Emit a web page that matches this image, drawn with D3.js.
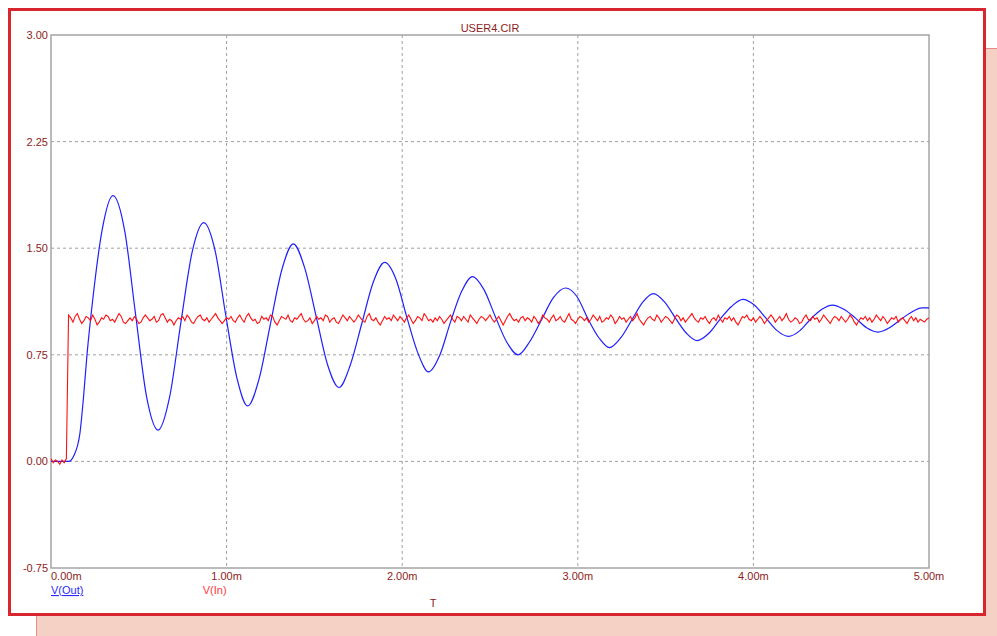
<!DOCTYPE html>
<html>
<head>
<meta charset="utf-8">
<script src="https://cdn.jsdelivr.net/npm/d3@7"></script>
<style>
  body { margin: 0; background: #ffffff; }
  svg text { font-family: "Liberation Sans", Arial, sans-serif; font-size: 11px; }
</style>
</head>
<body>
<script>
// tick values for both axes
const yTicks = [-0.75, 0, 0.75, 1.5, 2.25, 3.0];
const xTicks = [0, 1, 2, 3, 4, 5];

// V(Out): damped ringing, times in ms
const outTimes = [0, 0.10, 0.13, 0.165, 0.185, 0.205, 0.237, 0.29, 0.353, 0.42, 0.48, 0.545, 0.61,
  0.675, 0.74, 0.805, 0.87, 0.935, 0.995, 1.06, 1.12, 1.185, 1.25, 1.315, 1.38, 1.445, 1.51,
  1.575, 1.64, 1.705, 1.77, 1.835, 1.90, 1.965, 2.025, 2.09, 2.15, 2.215, 2.275, 2.34, 2.40,
  2.465, 2.53, 2.595, 2.66, 2.725, 2.795, 2.86, 2.93, 2.995, 3.055, 3.12, 3.18, 3.245, 3.31,
  3.37, 3.43, 3.495, 3.555, 3.62, 3.68, 3.745, 3.81, 3.875, 3.94, 4.005, 4.07, 4.135, 4.20,
  4.265, 4.325, 4.39, 4.45, 4.515, 4.58, 4.645, 4.71, 4.775, 4.84, 4.90, 4.96, 5.00];
const outValues = [0, 0, 0.04, 0.20, 0.45, 0.75, 1.13, 1.62, 1.87, 1.62, 1.05, 0.45, 0.22,
  0.45, 0.98, 1.48, 1.68, 1.48, 1.03, 0.58, 0.39, 0.58, 0.97, 1.35, 1.53, 1.36, 1.02,
  0.68, 0.52, 0.68, 0.97, 1.26, 1.40, 1.28, 1.02, 0.76, 0.63, 0.75, 0.98, 1.20, 1.30,
  1.21, 1.02, 0.84, 0.75, 0.84, 1.00, 1.15, 1.22, 1.16, 1.01, 0.87, 0.80, 0.87, 1.00,
  1.12, 1.18, 1.12, 1.01, 0.90, 0.85, 0.90, 1.00, 1.09, 1.14, 1.10, 1.01, 0.92, 0.88,
  0.92, 1.00, 1.07, 1.10, 1.07, 1.01, 0.94, 0.91, 0.94, 1.00, 1.05, 1.08, 1.08];

// V(In): noisy step, sampled every 0.0125 ms
const inStep = 0.0125;
const inBefore = [0.02, -0.01, 0.01, 0.00, -0.02, 0.01, -0.01, 0.02];
const inStart = 0.10;
const inAfter = [
  1.03, 1.01, 0.98, 1.02, 1.04, 1.00, 0.97, 0.99, 1.02, 1.01,
  0.99, 1.03, 1.00, 0.96, 0.98, 1.01, 1.00, 1.03, 1.02, 0.99,
  1.00, 0.98, 1.01, 1.04, 1.02, 0.98, 0.97, 0.99, 1.01, 0.99,
  1.02, 1.00, 0.97, 0.98, 1.01, 1.03, 1.01, 0.99, 1.00, 1.02,
  0.98, 0.99, 1.03, 1.04, 1.01, 0.98, 1.00, 0.99, 0.96, 0.99,
  1.01, 1.00, 1.02, 0.99, 1.03, 1.01, 0.98, 0.97, 1.00, 1.02,
  1.03, 1.00, 0.99, 1.01, 0.98, 1.00, 1.02, 1.04, 1.01, 0.99,
  0.97, 0.99, 1.01, 1.00, 1.02, 0.99, 0.98, 1.01, 1.03, 1.00,
  0.98, 1.02, 1.04, 1.01, 0.99, 1.00, 0.97, 0.98, 1.02, 1.00,
  1.01, 0.99, 1.03, 1.02, 0.98, 0.96, 0.99, 1.02, 1.01, 1.00,
  1.03, 0.99, 0.98, 1.01, 1.00, 1.02, 1.04, 1.00, 0.98, 0.99,
  1.01, 0.97, 0.99, 1.02, 1.00, 1.01, 0.99, 1.03, 1.02, 0.98,
  1.00, 1.01, 0.98, 0.97, 1.00, 1.03, 1.01, 0.99, 1.02, 1.00,
  0.98, 1.00, 1.03, 1.01, 0.99, 0.98, 1.02, 1.04, 1.00, 0.99,
  1.01, 0.98, 0.96, 0.99, 1.02, 1.00, 1.01, 0.99, 1.03, 1.01,
  0.99, 1.02, 1.00, 0.98, 1.01, 1.03, 1.00, 0.97, 0.99, 1.02,
  1.01, 0.99, 1.04, 1.02, 0.99, 1.00, 0.98, 1.01, 0.99, 1.02,
  1.00, 0.97, 0.99, 1.01, 1.03, 1.00, 0.98, 1.02, 1.01, 0.99,
  1.02, 1.00, 0.98, 1.03, 1.01, 0.99, 0.97, 1.00, 1.02, 1.01,
  0.99, 1.01, 1.03, 1.00, 0.98, 1.00, 1.02, 0.99, 0.96, 0.99,
  1.02, 1.04, 1.01, 0.99, 1.00, 0.98, 1.01, 1.02, 0.99, 1.01,
  1.00, 0.98, 1.02, 1.00, 0.97, 0.99, 1.03, 1.01, 1.00, 0.98,
  1.01, 1.03, 0.99, 1.00, 1.02, 0.99, 0.98, 1.01, 1.04, 1.00,
  0.99, 0.97, 1.00, 1.02, 1.01, 0.99, 1.01, 0.98, 1.00, 1.03,
  1.01, 0.99, 1.02, 0.98, 0.99, 1.01, 1.00, 1.03, 1.01, 0.97,
  0.99, 1.02, 1.00, 1.01, 0.98, 1.00, 1.02, 0.99, 1.01, 1.04,
  1.00, 0.98, 0.96, 0.99, 1.01, 1.02, 1.00, 0.99, 1.03, 1.01,
  0.98, 1.00, 1.02, 1.01, 0.99, 0.97, 1.00, 1.03, 1.02, 0.99,
  1.01, 0.98, 1.00, 1.02, 1.04, 1.01, 0.99, 0.98, 1.01, 1.00,
  1.02, 0.99, 0.97, 1.00, 1.01, 0.99, 1.03, 1.00, 0.98, 1.01,
  1.00, 1.02, 0.99, 1.01, 0.98, 0.96, 0.99, 1.02, 1.01, 1.03,
  1.00, 0.99, 1.01, 0.98, 1.00, 1.02, 1.00, 0.97, 0.99, 1.01,
  1.03, 1.01, 0.98, 1.00, 1.02, 0.99, 1.01, 1.04, 1.00, 0.98,
  0.99, 1.01, 1.00, 0.97, 0.98, 1.01, 1.03, 1.00, 0.99, 1.02,
  1.00, 1.01, 0.98, 1.00, 1.03, 1.01, 0.99, 0.97, 1.00, 1.02,
  1.01, 0.99, 1.02, 1.00, 0.98, 1.00, 1.03, 1.01, 0.98, 0.96,
  0.99, 1.01, 1.00, 1.02, 0.99, 1.01, 0.98, 1.00, 1.03, 1.01,
  0.99, 1.02, 1.00, 0.97, 0.99, 1.01, 1.00, 1.02, 0.98, 1.00,
  1.01, 0.99, 0.97, 1.00, 1.02, 0.99, 1.01, 0.98, 1.00, 0.99,
  0.98, 1.00, 1.01];

const W = 997, H = 636;
const plot = { left: 51, top: 35, right: 929, bottom: 568 };
const darkRed = "#8e1c1c";

const svg = d3.select("body").append("svg")
  .attr("width", W).attr("height", H);

// pink backdrop behind the white panel
svg.append("rect")
  .attr("x", 36.5).attr("y", 48.5).attr("width", W).attr("height", H)
  .attr("fill", "#f4d1c4").attr("stroke", "#e78a86").attr("stroke-width", 1);

// white panel with red frame
svg.append("rect")
  .attr("x", 9.5).attr("y", 9.5).attr("width", 975).attr("height", 605)
  .attr("fill", "#ffffff").attr("stroke", "#d7262d").attr("stroke-width", 3);

const x = d3.scaleLinear().domain([0, 5]).range([plot.left, plot.right]);
const y = d3.scaleLinear().domain([-0.75, 3]).range([plot.bottom, plot.top]);

// dashed grid
svg.append("g").selectAll("line")
  .data(xTicks.slice(1, -1))
  .enter().append("line")
  .attr("x1", d => x(d)).attr("x2", d => x(d))
  .attr("y1", plot.top).attr("y2", plot.bottom)
  .attr("stroke", "#a0a0a0").attr("stroke-dasharray", "3,3");
svg.append("g").selectAll("line")
  .data(yTicks.slice(1, -1))
  .enter().append("line")
  .attr("x1", plot.left).attr("x2", plot.right)
  .attr("y1", d => y(d)).attr("y2", d => y(d))
  .attr("stroke", "#a0a0a0").attr("stroke-dasharray", "3,3");

// plot frame
svg.append("rect")
  .attr("x", plot.left).attr("y", plot.top)
  .attr("width", plot.right - plot.left).attr("height", plot.bottom - plot.top)
  .attr("fill", "none").attr("stroke", "#a4a4a4").attr("stroke-width", 1.5);

// clip for the traces
svg.append("clipPath").attr("id", "clip")
  .append("rect").attr("x", plot.left).attr("y", plot.top)
  .attr("width", plot.right - plot.left).attr("height", plot.bottom - plot.top);

// build V(In) points
let inData = inBefore.map((v, i) => [i * inStep, v]);
inAfter.forEach((v, i) => inData.push([inStart + i * inStep, v]));
inData = inData.filter(d => d[0] <= 5);

const outData = outTimes.map((t, i) => [t, outValues[i]]);

const line = d3.line().x(d => x(d[0])).y(d => y(d[1]));

svg.append("path")
  .datum(outData)
  .attr("clip-path", "url(#clip)")
  .attr("d", line.curve(d3.curveMonotoneX))
  .attr("fill", "none").attr("stroke", "#1f1fff").attr("stroke-width", 1.2);

svg.append("path")
  .datum(inData)
  .attr("clip-path", "url(#clip)")
  .attr("d", d3.line().x(d => x(d[0])).y(d => y(d[1])))
  .attr("fill", "none").attr("stroke", "#ff1010").attr("stroke-width", 1.1);

// y tick labels
svg.append("g").selectAll("text")
  .data(yTicks)
  .enter().append("text")
  .attr("x", plot.left - 3).attr("y", d => y(d) + 4)
  .attr("text-anchor", "end").attr("fill", darkRed)
  .text(d => d.toFixed(2));

// x tick labels, first one starts at the axis
svg.append("g").selectAll("text")
  .data(xTicks)
  .enter().append("text")
  .attr("x", d => x(d))
  .attr("y", plot.bottom + 12)
  .attr("text-anchor", d => d === 0 ? "start" : "middle")
  .attr("fill", darkRed)
  .text(d => d.toFixed(2) + "m");

// title
svg.append("text")
  .attr("x", (plot.left + plot.right) / 2).attr("y", 32)
  .attr("text-anchor", "middle").attr("fill", darkRed)
  .text("USER4.CIR");

// legend labels
svg.append("text")
  .attr("x", plot.left).attr("y", 594)
  .attr("fill", "#2a2aff").attr("text-decoration", "underline")
  .text("V(Out)");
svg.append("text")
  .attr("x", x(1)).attr("y", 594)
  .attr("text-anchor", "end").attr("fill", "#ff3a3a")
  .text("V(In)");

// x axis name
svg.append("text")
  .attr("x", 433).attr("y", 607)
  .attr("text-anchor", "middle").attr("fill", darkRed)
  .text("T");
</script>
</body>
</html>
